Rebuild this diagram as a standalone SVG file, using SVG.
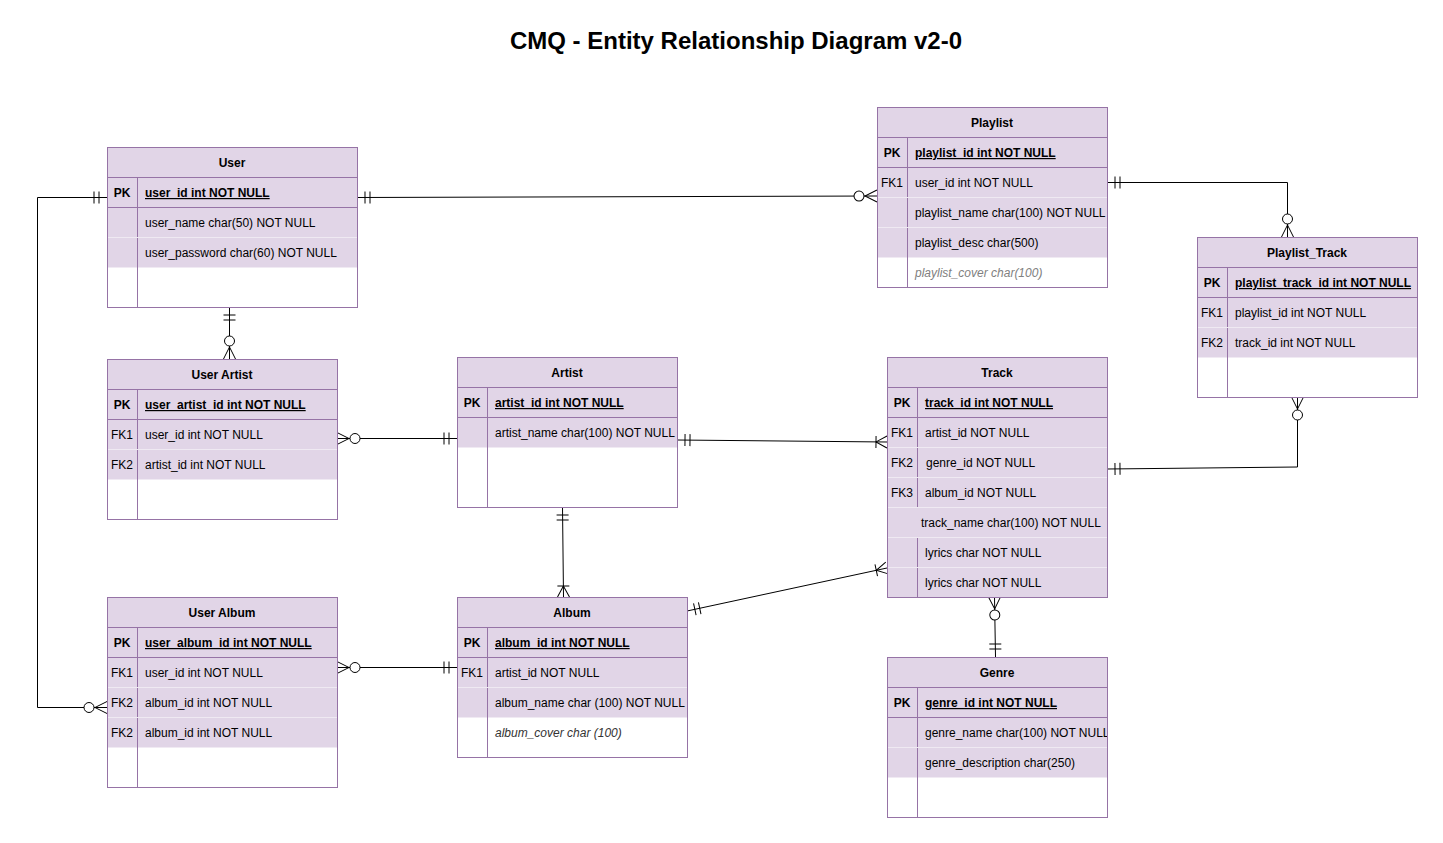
<svg xmlns="http://www.w3.org/2000/svg" width="1443" height="843" viewBox="0 0 1443 843">
<style>
.bg{fill:#fff}
.tb{fill:none;stroke:#9673a6;stroke-width:1}
.wf{fill:#fff}
.fl{fill:#e1d5e7}
.ln{stroke:#9673a6;stroke-width:1;fill:none}
.fn{stroke:#efe9f2;stroke-width:1;fill:none}
text{font-family:"Liberation Sans",Arial,Helvetica,sans-serif;font-size:12px;fill:#000}
.h{font-weight:bold;text-anchor:middle}
.k{text-anchor:middle}
.kb{text-anchor:middle;font-weight:bold}
.pk{font-weight:bold;text-decoration:underline}
.it{font-style:italic;fill:#808080}
.it2{font-style:italic;fill:#333}
.title{font-size:24px;font-weight:bold;text-anchor:middle}
.cn{fill:none;stroke:#000;stroke-width:1}
</style>
<defs>
<marker id="mOne" markerUnits="userSpaceOnUse" orient="auto-start-reverse" refX="0" refY="0" markerWidth="30" markerHeight="30" overflow="visible">
<path d="M-8,-6V6M-13,-6V6" fill="none" stroke="#000" stroke-width="1"/>
</marker>
<marker id="mZeroMany" markerUnits="userSpaceOnUse" orient="auto-start-reverse" refX="0" refY="0" markerWidth="30" markerHeight="30" overflow="visible">
<path d="M0,-6L-12,0L0,6" fill="none" stroke="#000" stroke-width="1"/>
<circle cx="-18" cy="0" r="5" fill="#fff" stroke="#000" stroke-width="1"/>
</marker>
<marker id="mOneMany" markerUnits="userSpaceOnUse" orient="auto-start-reverse" refX="0" refY="0" markerWidth="30" markerHeight="30" overflow="visible">
<path d="M0,-6L-11,0L0,6M-11,-6V6" fill="none" stroke="#000" stroke-width="1"/>
</marker>
<clipPath id="clipGenre"><rect x="887" y="657" width="220" height="160"/></clipPath>
</defs>
<rect class="bg" x="0" y="0" width="1443" height="843"/>
<text class="title" x="736" y="49">CMQ - Entity Relationship Diagram v2-0</text>

<g id="connectors">
<path class="cn" d="M107,197.5 H37.5 V707.5 H107" marker-start="url(#mOne)" marker-end="url(#mZeroMany)"/>
<path class="cn" d="M357,197.5 L877,196" marker-start="url(#mOne)" marker-end="url(#mZeroMany)"/>
<path class="cn" d="M229.5,307 V359" marker-start="url(#mOne)" marker-end="url(#mZeroMany)"/>
<path class="cn" d="M1107,182.5 H1287.5 V237" marker-start="url(#mOne)" marker-end="url(#mZeroMany)"/>
<path class="cn" d="M337,438.5 H457" marker-start="url(#mZeroMany)" marker-end="url(#mOne)"/>
<path class="cn" d="M677,440 L887,442" marker-start="url(#mOne)" marker-end="url(#mOneMany)"/>
<path class="cn" d="M562.5,507 L563.5,597" marker-start="url(#mOne)" marker-end="url(#mOneMany)"/>
<path class="cn" d="M337,667.5 H457" marker-start="url(#mZeroMany)" marker-end="url(#mOne)"/>
<path class="cn" d="M687,611 L887,568" marker-start="url(#mOne)" marker-end="url(#mOneMany)"/>
<path class="cn" d="M1107,469 L1297.5,467 V397" marker-start="url(#mOne)" marker-end="url(#mZeroMany)"/>
<path class="cn" d="M994.5,597 L995.5,657" marker-start="url(#mZeroMany)" marker-end="url(#mOne)"/>
</g>

<g id="user">
<rect class="wf" x="107.5" y="147.5" width="250" height="160"/>
<rect class="fl" x="107.5" y="147.5" width="250" height="120"/>
<path class="ln" d="M107.5,177.5H357.5M107.5,207.5H357.5M137.5,177.5V307.5"/>
<path class="fn" d="M108,237.5H357"/>
<rect class="tb" x="107.5" y="147.5" width="250" height="160"/>
<text class="h" x="232" y="167">User</text>
<text class="kb" x="122" y="197">PK</text>
<text class="pk" x="145" y="197">user_id int NOT NULL</text>
<text x="145" y="227">user_name char(50) NOT NULL</text>
<text x="145" y="257">user_password char(60) NOT NULL</text>
</g>

<g id="playlist">
<rect class="wf" x="877.5" y="107.5" width="230" height="180"/>
<rect class="fl" x="877.5" y="107.5" width="230" height="150"/>
<path class="ln" d="M877.5,137.5H1107.5M877.5,167.5H1107.5M907.5,137.5V287.5"/>
<path class="fn" d="M878,197.5H1107M878,227.5H1107"/>
<rect class="tb" x="877.5" y="107.5" width="230" height="180"/>
<text class="h" x="992" y="127">Playlist</text>
<text class="kb" x="892" y="157">PK</text>
<text class="pk" x="915" y="157">playlist_id int NOT NULL</text>
<text class="k" x="892" y="187">FK1</text>
<text x="915" y="187">user_id int NOT NULL</text>
<text x="915" y="217">playlist_name char(100) NOT NULL</text>
<text x="915" y="247">playlist_desc char(500)</text>
<text class="it" x="915" y="277">playlist_cover char(100)</text>
</g>

<g id="playlist_track">
<rect class="wf" x="1197.5" y="237.5" width="220" height="160"/>
<rect class="fl" x="1197.5" y="237.5" width="220" height="120"/>
<path class="ln" d="M1197.5,267.5H1417.5M1197.5,297.5H1417.5M1227.5,267.5V397.5"/>
<path class="fn" d="M1198,327.5H1417"/>
<rect class="tb" x="1197.5" y="237.5" width="220" height="160"/>
<text class="h" x="1307" y="257">Playlist_Track</text>
<text class="kb" x="1212" y="287">PK</text>
<text class="pk" x="1235" y="287">playlist_track_id int NOT NULL</text>
<text class="k" x="1212" y="317">FK1</text>
<text x="1235" y="317">playlist_id int NOT NULL</text>
<text class="k" x="1212" y="347">FK2</text>
<text x="1235" y="347">track_id int NOT NULL</text>
</g>

<g id="user_artist">
<rect class="wf" x="107.5" y="359.5" width="230" height="160"/>
<rect class="fl" x="107.5" y="359.5" width="230" height="120"/>
<path class="ln" d="M107.5,389.5H337.5M107.5,419.5H337.5M137.5,389.5V519.5"/>
<path class="fn" d="M108,449.5H337"/>
<rect class="tb" x="107.5" y="359.5" width="230" height="160"/>
<text class="h" x="222" y="379">User Artist</text>
<text class="kb" x="122" y="409">PK</text>
<text class="pk" x="145" y="409">user_artist_id int NOT NULL</text>
<text class="k" x="122" y="439">FK1</text>
<text x="145" y="439">user_id int NOT NULL</text>
<text class="k" x="122" y="469">FK2</text>
<text x="145" y="469">artist_id int NOT NULL</text>
</g>

<g id="artist">
<rect class="wf" x="457.5" y="357.5" width="220" height="150"/>
<rect class="fl" x="457.5" y="357.5" width="220" height="90"/>
<path class="ln" d="M457.5,387.5H677.5M457.5,417.5H677.5M487.5,387.5V507.5"/>
<rect class="tb" x="457.5" y="357.5" width="220" height="150"/>
<text class="h" x="567" y="377">Artist</text>
<text class="kb" x="472" y="407">PK</text>
<text class="pk" x="495" y="407">artist_id int NOT NULL</text>
<text x="495" y="437">artist_name char(100) NOT NULL</text>
</g>

<g id="track">
<rect class="fl" x="887.5" y="357.5" width="220" height="240"/>
<path class="ln" d="M887.5,387.5H1107.5M887.5,417.5H1107.5M917.5,387.5V507.5M917.5,537.5V597.5"/>
<path class="fn" d="M888,447.5H1107M888,477.5H1107M888,507.5H1107M888,537.5H1107M888,567.5H1107"/>
<rect class="tb" x="887.5" y="357.5" width="220" height="240"/>
<text class="h" x="997" y="377">Track</text>
<text class="kb" x="902" y="407">PK</text>
<text class="pk" x="925" y="407">track_id int NOT NULL</text>
<text class="k" x="902" y="437">FK1</text>
<text x="925" y="437">artist_id NOT NULL</text>
<text class="k" x="902" y="467">FK2</text>
<text x="926" y="467">genre_id NOT NULL</text>
<text class="k" x="902" y="497">FK3</text>
<text x="925" y="497">album_id NOT NULL</text>
<text x="921" y="527">track_name char(100) NOT NULL</text>
<text x="925" y="557">lyrics char NOT NULL</text>
<text x="925" y="587">lyrics char NOT NULL</text>
</g>

<g id="genre">
<rect class="wf" x="887.5" y="657.5" width="220" height="160"/>
<rect class="fl" x="887.5" y="657.5" width="220" height="120"/>
<path class="ln" d="M887.5,687.5H1107.5M887.5,717.5H1107.5M917.5,687.5V817.5"/>
<path class="fn" d="M888,747.5H1107"/>
<text class="h" x="997" y="677">Genre</text>
<text class="kb" x="902" y="707">PK</text>
<text class="pk" x="925" y="707">genre_id int NOT NULL</text>
<text x="925" y="737" clip-path="url(#clipGenre)">genre_name char(100) NOT NULL</text>
<text x="925" y="767">genre_description char(250)</text>
<rect class="tb" x="887.5" y="657.5" width="220" height="160"/>
</g>

<g id="user_album">
<rect class="wf" x="107.5" y="597.5" width="230" height="190"/>
<rect class="fl" x="107.5" y="597.5" width="230" height="150"/>
<path class="ln" d="M107.5,627.5H337.5M107.5,657.5H337.5M137.5,627.5V787.5"/>
<path class="fn" d="M108,687.5H337M108,717.5H337"/>
<rect class="tb" x="107.5" y="597.5" width="230" height="190"/>
<text class="h" x="222" y="617">User Album</text>
<text class="kb" x="122" y="647">PK</text>
<text class="pk" x="145" y="647">user_album_id int NOT NULL</text>
<text class="k" x="122" y="677">FK1</text>
<text x="145" y="677">user_id int NOT NULL</text>
<text class="k" x="122" y="707">FK2</text>
<text x="145" y="707">album_id int NOT NULL</text>
<text class="k" x="122" y="737">FK2</text>
<text x="145" y="737">album_id int NOT NULL</text>
</g>

<g id="album">
<rect class="wf" x="457.5" y="597.5" width="230" height="160"/>
<rect class="fl" x="457.5" y="597.5" width="230" height="120"/>
<path class="ln" d="M457.5,627.5H687.5M457.5,657.5H687.5M487.5,627.5V757.5"/>
<path class="fn" d="M458,687.5H687"/>
<rect class="tb" x="457.5" y="597.5" width="230" height="160"/>
<text class="h" x="572" y="617">Album</text>
<text class="kb" x="472" y="647">PK</text>
<text class="pk" x="495" y="647">album_id int NOT NULL</text>
<text class="k" x="472" y="677">FK1</text>
<text x="495" y="677">artist_id NOT NULL</text>
<text x="495" y="707">album_name char (100) NOT NULL</text>
<text class="it2" x="495" y="737">album_cover char (100)</text>
</g>
</svg>
